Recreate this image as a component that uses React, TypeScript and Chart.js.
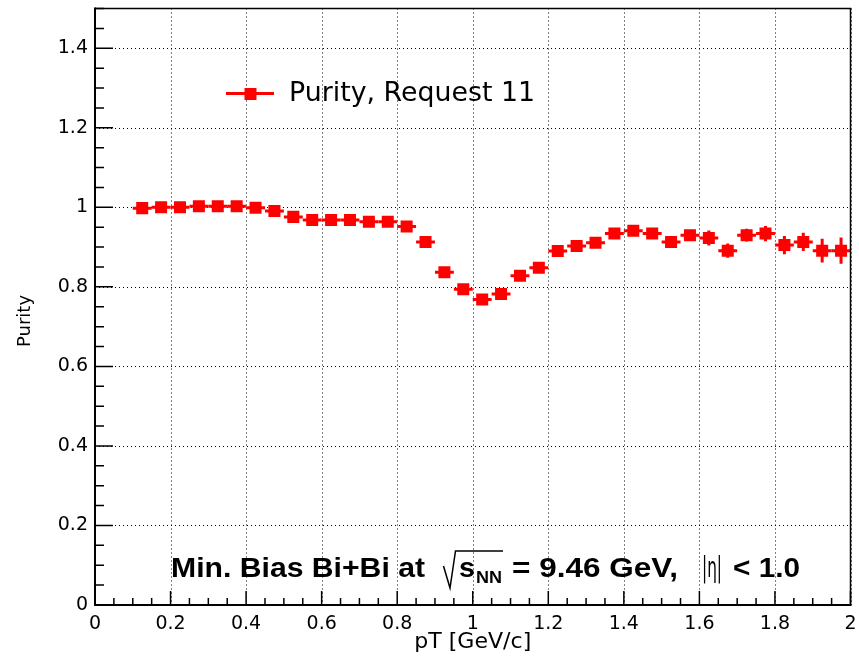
import React, { useEffect, useRef } from 'react';
import { Chart, registerables } from 'chart.js';

Chart.register(...registerables);

// ---- data ----
const xBins = [
  0.125, 0.175, 0.225, 0.275, 0.325, 0.375, 0.425, 0.475, 0.525, 0.575,
  0.625, 0.675, 0.725, 0.775, 0.825, 0.875, 0.925, 0.975, 1.025, 1.075,
  1.125, 1.175, 1.225, 1.275, 1.325, 1.375, 1.425, 1.475, 1.525, 1.575,
  1.625, 1.675, 1.725, 1.775, 1.825, 1.875, 1.925, 1.975,
];
const purity = [
  0.998, 1.0, 1.0, 1.003, 1.003, 1.003, 0.999, 0.991, 0.976, 0.968,
  0.968, 0.968, 0.964, 0.964, 0.952, 0.913, 0.837, 0.794, 0.768, 0.782,
  0.828, 0.848, 0.89, 0.903, 0.911, 0.934, 0.941, 0.934, 0.913, 0.93,
  0.923, 0.891, 0.93, 0.934, 0.905, 0.913, 0.891, 0.891,
];
const purityErr = [
  0.004, 0.004, 0.004, 0.004, 0.004, 0.005, 0.005, 0.005, 0.006, 0.006,
  0.006, 0.006, 0.006, 0.007, 0.007, 0.008, 0.008, 0.009, 0.009, 0.01,
  0.01, 0.011, 0.011, 0.011, 0.011, 0.012, 0.012, 0.012, 0.013, 0.013,
  0.019, 0.018, 0.016, 0.019, 0.023, 0.023, 0.03, 0.033,
];
const binHalfWidth = 0.025;

const xMajorTicks = [0, 0.2, 0.4, 0.6, 0.8, 1, 1.2, 1.4, 1.6, 1.8, 2];
const xTickLabels = ['0', '0.2', '0.4', '0.6', '0.8', '1', '1.2', '1.4', '1.6', '1.8', '2'];
const yMajorTicks = [0, 0.2, 0.4, 0.6, 0.8, 1, 1.2, 1.4];
const yTickLabels = ['0', '0.2', '0.4', '0.6', '0.8', '1', '1.2', '1.4'];
const xMin = 0, xMax = 2, yMin = 0, yMax = 1.5;
const minorStep = 0.05;

const legendLabel = 'Purity, Request 11';
const xTitle = 'pT [GeV/c]';
const yTitle = 'Purity';

const RED = '#ff0000';
const TICK_FONT = { family: 'DejaVu Sans', size: 19 };

function stretchText(ctx: CanvasRenderingContext2D, text: string, x: number, y: number, font: string, width: number) {
  ctx.font = font;
  const w = ctx.measureText(text).width;
  ctx.save();
  ctx.translate(x, y);
  ctx.scale(width / w, 1);
  ctx.textAlign = 'left';
  ctx.textBaseline = 'alphabetic';
  ctx.fillText(text, 0, 0);
  ctx.restore();
}

const rootStyle = {
  id: 'rootStyle',
  beforeDatasetsDraw(chart: any) {
    const { ctx, chartArea: a, scales } = chart;
    const x = scales.x, y = scales.y;
    ctx.save();
    // dotted grid
    ctx.strokeStyle = '#000';
    ctx.lineWidth = 1;
    ctx.setLineDash([1, 3]);
    xMajorTicks.forEach((v) => {
      const px = Math.round(x.getPixelForValue(v)) + 0.5;
      ctx.beginPath(); ctx.moveTo(px, a.top); ctx.lineTo(px, a.bottom); ctx.stroke();
    });
    yMajorTicks.forEach((v) => {
      const py = Math.round(y.getPixelForValue(v)) + 0.5;
      ctx.beginPath(); ctx.moveTo(a.left, py); ctx.lineTo(a.right, py); ctx.stroke();
    });
    ctx.setLineDash([]);
    // error bars
    ctx.strokeStyle = RED;
    ctx.lineWidth = 3;
    xBins.forEach((xv, i) => {
      const px = x.getPixelForValue(xv);
      const py = y.getPixelForValue(purity[i]);
      ctx.beginPath();
      ctx.moveTo(x.getPixelForValue(xv - binHalfWidth), py);
      ctx.lineTo(x.getPixelForValue(xv + binHalfWidth), py);
      ctx.moveTo(px, y.getPixelForValue(purity[i] + purityErr[i]));
      ctx.lineTo(px, y.getPixelForValue(purity[i] - purityErr[i]));
      ctx.stroke();
    });
    ctx.restore();
  },
  afterDatasetsDraw(chart: any) {
    const { ctx, chartArea: a, scales } = chart;
    const x = scales.x, y = scales.y;
    ctx.save();
    ctx.strokeStyle = '#000';
    // frame top/right
    ctx.lineWidth = 1.5;
    ctx.beginPath();
    ctx.moveTo(a.left, a.top); ctx.lineTo(a.right, a.top); ctx.lineTo(a.right, a.bottom);
    ctx.stroke();
    // axes
    ctx.lineWidth = 2;
    ctx.beginPath();
    ctx.moveTo(a.left, a.top - 1); ctx.lineTo(a.left, a.bottom); ctx.lineTo(a.right + 1, a.bottom);
    ctx.stroke();
    // ticks (inside)
    ctx.lineWidth = 1.5;
    ctx.beginPath();
    for (let k = 0; k <= Math.round((xMax - xMin) / minorStep); k++) {
      const v = xMin + k * minorStep;
      const major = k % 4 === 0;
      const px = x.getPixelForValue(v);
      ctx.moveTo(px, a.bottom); ctx.lineTo(px, a.bottom - (major ? 14 : 7));
    }
    for (let k = 0; k <= Math.round((yMax - yMin) / minorStep); k++) {
      const v = yMin + k * minorStep;
      const major = k % 4 === 0;
      const py = y.getPixelForValue(v);
      ctx.moveTo(a.left, py); ctx.lineTo(a.left + (major ? 18 : 9), py);
    }
    ctx.stroke();

    // legend
    ctx.strokeStyle = RED;
    ctx.lineWidth = 3;
    ctx.beginPath(); ctx.moveTo(226, 93.5); ctx.lineTo(274, 93.5); ctx.stroke();
    ctx.fillStyle = RED;
    ctx.fillRect(244.5, 88, 12, 12);
    ctx.fillStyle = '#000';
    stretchText(ctx, legendLabel, 289, 101, '27px "DejaVu Sans"', 246);

    // annotation
    const bold = (s: number) => `bold ${s}px "Liberation Sans"`;
    stretchText(ctx, 'Min. Bias Bi+Bi at', 171, 577, bold(28), 254);
    ctx.strokeStyle = '#000';
    ctx.lineWidth = 1.5;
    ctx.beginPath();
    ctx.moveTo(443.5, 566); ctx.lineTo(450, 588); ctx.lineTo(455.5, 551); ctx.lineTo(503, 551);
    ctx.stroke();
    stretchText(ctx, 's', 459, 577, bold(28), 16);
    stretchText(ctx, 'NN', 476, 583, bold(16), 26);
    stretchText(ctx, '= 9.46 GeV,', 512, 577, bold(28), 166);
    stretchText(ctx, '|η|', 702, 577, '28px "DejaVu Sans"', 20);
    stretchText(ctx, '< 1.0', 733, 577, bold(28), 67);

    // axis titles
    stretchText(ctx, xTitle, (a.left + a.right) / 2 - 117 / 2, 648, '22px "DejaVu Sans"', 117);
    ctx.save();
    ctx.translate(30, 321);
    ctx.rotate(-Math.PI / 2);
    ctx.font = '18px "DejaVu Sans"';
    ctx.textAlign = 'center';
    ctx.textBaseline = 'alphabetic';
    ctx.fillText(yTitle, 0, 0);
    ctx.restore();
    ctx.restore();
  },
};

export default function App() {
  const ref = useRef<HTMLCanvasElement>(null);
  useEffect(() => {
    document.body.style.margin = '0';
    const chart = new Chart(ref.current as HTMLCanvasElement, {
      type: 'scatter',
      data: {
        datasets: [
          {
            label: legendLabel,
            data: xBins.map((xv, i) => ({ x: xv, y: purity[i] })),
            pointStyle: 'rect',
            pointRadius: 8.5,
            pointHoverRadius: 8.5,
            backgroundColor: RED,
            borderColor: RED,
            borderWidth: 0,
            showLine: false,
          },
        ],
      },
      options: {
        responsive: false,
        animation: false,
        devicePixelRatio: 1,
        layout: { padding: { top: 7, right: 6, left: 0, bottom: 0 } },
        plugins: { legend: { display: false }, tooltip: { enabled: false } },
        events: [],
        scales: {
          x: {
            type: 'linear',
            min: xMin,
            max: xMax,
            afterBuildTicks: (s: any) => { s.ticks = xMajorTicks.map((v) => ({ value: v })); },
            afterFit: (s: any) => { s.height = 58; s.paddingLeft = 0; s.paddingRight = 0; },
            grid: { display: false, drawTicks: false },
            border: { display: false },
            ticks: {
              callback: (_v: any, i: number) => xTickLabels[i],
              font: TICK_FONT,
              color: '#000',
              padding: 8,
              maxRotation: 0,
              autoSkip: false,
            },
          },
          y: {
            type: 'linear',
            min: yMin,
            max: yMax,
            afterBuildTicks: (s: any) => { s.ticks = yMajorTicks.map((v) => ({ value: v })); },
            afterFit: (s: any) => { s.width = 95; s.paddingTop = 0; s.paddingBottom = 0; },
            grid: { display: false, drawTicks: false },
            border: { display: false },
            ticks: {
              callback: (_v: any, i: number) => yTickLabels[i],
              font: TICK_FONT,
              color: '#000',
              padding: 7,
              autoSkip: false,
            },
          },
        },
      },
      plugins: [rootStyle],
    } as any);
    return () => chart.destroy();
  }, []);
  return (
    <div style={{ width: 859, height: 663, background: '#fff' }}>
      <canvas ref={ref} width={859} height={663} style={{ display: 'block', width: 859, height: 663 }} />
    </div>
  );
}
